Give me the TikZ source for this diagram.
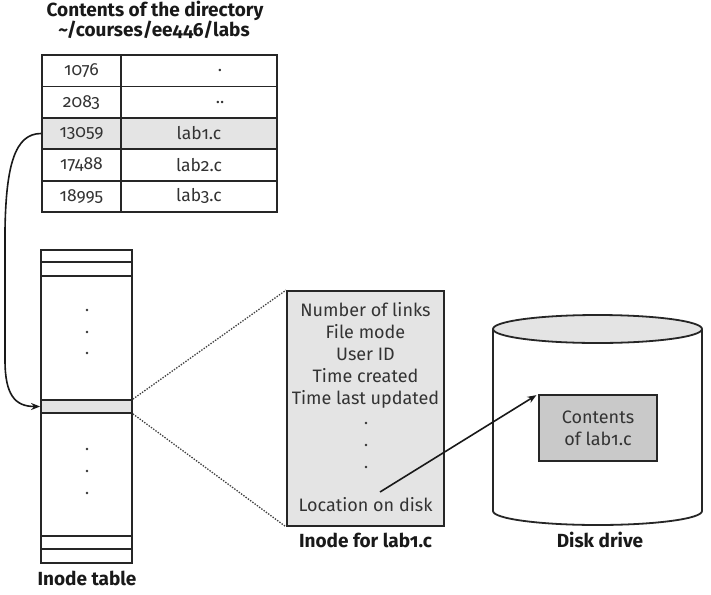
\documentclass[tikz,border=0pt]{standalone}
\usepackage{fontspec}
\setmainfont{Fira Sans}[Numbers=OldStyle]
\usetikzlibrary{arrows.meta}
\definecolor{txt}{HTML}{333333}
\definecolor{lightfill}{HTML}{E4E4E4}
\definecolor{darkfill}{HTML}{C9C9C9}
\begin{document}
\begin{tikzpicture}[x=1pt,y=-1pt,
  ln/.style={line width=1.8pt, draw=black!85},
  cell/.style={ln, rectangle, inner sep=0pt, minimum height=31.4pt, text=txt, font=\fontsize{17.5}{20}\selectfont},
  numcell/.style={cell, minimum width=79pt},
  namecell/.style={cell, minimum width=156pt},
  lbl/.style={font=\fontsize{19}{22}\selectfont\bfseries, text=black!90, inner sep=0pt},
  itxt/.style={font=\fontsize{18}{22}\selectfont, text=txt, anchor=base, inner sep=0pt},
  dotc/.style={circle, fill=txt, inner sep=0pt, minimum size=2.6pt},
  zoomline/.style={line width=1.3pt, draw=black!75, dash pattern=on 1.4pt off 1.4pt},
  arr/.style={line width=1.6pt, draw=black!90, -{Stealth[length=9pt,width=7pt]}}
]
\useasboundingbox (0,0) rectangle (711,594);

% title
\node[lbl, anchor=base] (t1) at (155,17) {Contents of the directory};
\node[lbl, anchor=base] (t2) at (154,37) {\char`\~/courses/ee446/labs};

% directory table
\node[numcell] (n1) at (81.5,70.7) {1076};
\node[namecell] (m1) at (199,70.7) {\hspace*{42pt}.};
\node[numcell] (n2) at (81.5,102.1) {2083};
\node[namecell] (m2) at (199,102.1) {\hspace*{42pt}..};
\node[numcell, fill=lightfill] (n3) at (81.5,133.5) {13059};
\node[namecell, fill=lightfill] (m3) at (199,133.5) {lab1.c};
\node[numcell] (n4) at (81.5,164.9) {17488};
\node[namecell] (m4) at (199,164.9) {lab2.c};
\node[numcell] (n5) at (81.5,196.3) {18995};
\node[namecell] (m5) at (199,196.3) {lab3.c};

% inode table
\node[ln, rectangle, minimum width=91pt, minimum height=313pt, inner sep=0pt] (itab) at (86.5,406.5) {};
\node[ln, rectangle, fill=lightfill, minimum width=91pt, minimum height=13pt, inner sep=0pt] (ib) at (86.5,406.5) {};
\foreach \yy in {262,276,536,549} \draw[ln] (itab.west |- 0,\yy) -- (itab.east |- 0,\yy);
\foreach \yy in {310,332,353,449,471,493} \node[dotc] at (87,\yy) {};
\node[lbl, anchor=base] (itlbl) at (87,585) {Inode table};

% arrow from directory entry to inode
\draw[arr] (n3.west) .. controls (15,133.5) and (6,165) .. (5,230) -- (5,360) .. controls (5,395) and (15,406.5) .. (ib.west);

% inode detail
\node[ln, rectangle, fill=lightfill, minimum width=157pt, minimum height=235pt, inner sep=0pt] (inode) at (365.5,408.5) {};
\draw[zoomline] (ib.north east) -- (inode.north west);
\draw[zoomline] (ib.south east) -- (inode.south west);
\node[itxt] (l1) at (365.5,316) {Number of links};
\node[itxt] (l2) at (365.5,338) {File mode};
\node[itxt] (l3) at (365.5,360) {User ID};
\node[itxt] (l4) at (365.5,382) {Time created};
\node[itxt] (l5) at (365.5,404) {Time last updated};
\foreach \yy in {423,445,467} \node[dotc] at (366,\yy) {};
\node[itxt] (l6) at (365.5,511) {Location on disk};
\node[lbl, anchor=base] (inlbl) at (365.5,547) {Inode for lab1.c};

% disk drive
\draw[ln, fill=white] (493,329) -- (493,511) arc[start angle=180, end angle=0, x radius=104.5, y radius=14] -- (702,329);
\draw[ln, fill=lightfill] (597.5,329) ellipse[x radius=104.5, y radius=14];
\node[ln, rectangle, fill=darkfill, minimum width=118pt, minimum height=66pt, inner sep=0pt, align=center, text=txt, font=\fontsize{18}{22}\selectfont] (contents) at (598,428) {Contents\\of lab1.c};
\node[lbl, anchor=base] (dlbl) at (600,547) {Disk drive};

\coordinate (loc) at (380,492);
\draw[arr, shorten >=2pt] (loc) -- (contents.north west);
\end{tikzpicture}
\end{document}
